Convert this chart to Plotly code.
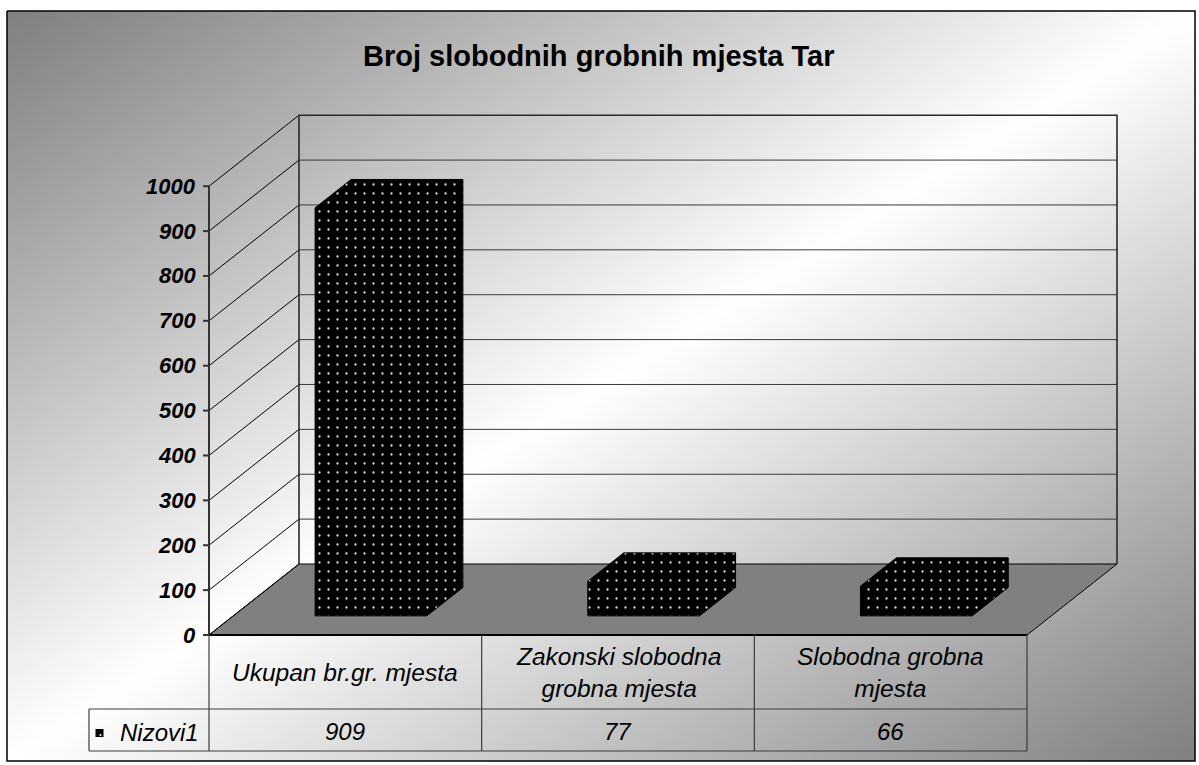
import numpy as np
import plotly.graph_objects as go

# ---------------- data ----------------
title_text = "Broj slobodnih grobnih mjesta Tar"
categories = ["Ukupan br.gr. mjesta", "Zakonski slobodna grobna mjesta", "Slobodna grobna mjesta"]
category_labels = ["Ukupan br.gr. mjesta", "Zakonski slobodna<br>grobna mjesta", "Slobodna grobna<br>mjesta"]
series_name = "Nizovi1"
values = [909, 77, 66]
y_ticks = [0, 100, 200, 300, 400, 500, 600, 700, 800, 900, 1000]

# ---------------- layout geometry (pixel <-> data) ----------------
W, H = 1199, 765
SX = 272.67      # pixels per category slot
SY = 0.4488      # pixels per value unit
OX, OY = 209, 635  # pixel position of (category 0 left edge, value 0) at front


def dxp(px):
    return (px - OX) / SX


def dyp(py):
    return (OY - py) / SY


DEPTH_X = 90 / SX
DEPTH_Y = 71 / SY
n_cat = len(categories)
vmax = y_ticks[-1]


def P(x, v, d):
    return (x + d * DEPTH_X, v + d * DEPTH_Y)


fig = go.Figure()

# ---------------- background gradient inside the frame ----------------
FX0, FX1, FY0, FY1 = 7, 1195, 11, 761
N = 61
us = (np.arange(N) + 0.5) / N
vs = (np.arange(N) + 0.5) / N
xs = [dxp(FX0 + u * (FX1 - FX0)) for u in us]
ys_top_down = [dyp(FY0 + v * (FY1 - FY0)) for v in vs]
z = [[1 - abs(u + v - 1) for u in us] for v in vs]
ys = ys_top_down[::-1]
z = z[::-1]
fig.add_trace(go.Heatmap(x=xs, y=ys, z=z, zmin=0, zmax=1, zsmooth="best",
                         colorscale=[[0, "#7f7f7f"], [1, "#ffffff"]],
                         showscale=False, hoverinfo="skip"))

# frame
fx = [dxp(FX0), dxp(FX1), dxp(FX1), dxp(FX0), dxp(FX0)]
fy = [dyp(FY0), dyp(FY0), dyp(FY1), dyp(FY1), dyp(FY0)]
fig.add_trace(go.Scatter(x=fx, y=fy, mode="lines", line=dict(color="#000000", width=1.5),
                         hoverinfo="skip"))

# floor
fl = [P(0, 0, 0), P(n_cat, 0, 0), P(n_cat, 0, 1), P(0, 0, 1), P(0, 0, 0)]
fig.add_trace(go.Scatter(x=[p[0] for p in fl], y=[p[1] for p in fl], mode="lines",
                         fill="toself", fillcolor="#808080",
                         line=dict(color="#000000", width=1), hoverinfo="skip"))

# back wall gridlines
gx, gy = [], []
for t in y_ticks[1:-1]:
    a, b = P(0, t, 1), P(n_cat, t, 1)
    gx += [a[0], b[0], None]
    gy += [a[1], b[1], None]
fig.add_trace(go.Scatter(x=gx, y=gy, mode="lines", line=dict(color="#3a3a3a", width=1),
                         hoverinfo="skip"))

# side wall diagonals
sx_, sy_ = [], []
for t in y_ticks:
    a, b = P(0, t, 0), P(0, t, 1)
    sx_ += [a[0], b[0], None]
    sy_ += [a[1], b[1], None]
fig.add_trace(go.Scatter(x=sx_, y=sy_, mode="lines", line=dict(color="#000000", width=1),
                         hoverinfo="skip"))

# back wall outline (left, top, right)
bw = [P(0, 0, 1), P(0, vmax, 1), P(n_cat, vmax, 1), P(n_cat, 0, 1)]
fig.add_trace(go.Scatter(x=[p[0] for p in bw], y=[p[1] for p in bw], mode="lines",
                         line=dict(color="#2a2a2a", width=1.6), hoverinfo="skip"))

# floor front edge
fe = [P(0, 0, 0), P(n_cat, 0, 0)]
fig.add_trace(go.Scatter(x=[p[0] for p in fe], y=[p[1] for p in fe], mode="lines",
                         line=dict(color="#000000", width=2.2), hoverinfo="skip"))

# value axis and ticks
tx, ty = [0, 0, None], [0, vmax, None]
for t in y_ticks:
    tx += [dxp(OX - 6), 0, None]
    ty += [t, t, None]
fig.add_trace(go.Scatter(x=tx, y=ty, mode="lines", line=dict(color="#333333", width=2),
                         hoverinfo="skip"))

# bars (3D boxes)
bx0, bx1, bd0, bd1 = 0.30, 0.71, 0.27, 0.67
for i, v in enumerate(values):
    x0, x1 = i + bx0, i + bx1
    pts = [P(x0, 0, bd0), P(x1, 0, bd0), P(x1, 0, bd1), P(x1, v, bd1),
           P(x0, v, bd1), P(x0, v, bd0), P(x0, 0, bd0)]
    fig.add_trace(go.Scatter(
        x=[p[0] for p in pts], y=[p[1] for p in pts], mode="lines", fill="toself",
        fillcolor="#000000",
        fillpattern=dict(shape=".", bgcolor="#000000", fgcolor="#e0e0e0", size=9,
                         solidity=0.05, fillmode="replace"),
        line=dict(color="#000000", width=1), name=categories[i], hoverinfo="skip"))

# data table lines
row_top, row_mid, row_bot = OY, 709, 751
lx, ly = [], []
for c in range(n_cat + 1):
    lx += [c, c, None]
    ly += [dyp(row_top), dyp(row_bot), None]
for r in (row_mid, row_bot):
    lx += [dxp(89), n_cat, None]
    ly += [dyp(r), dyp(r), None]
lx += [dxp(89), dxp(89), None]
ly += [dyp(row_mid), dyp(row_bot), None]
fig.add_trace(go.Scatter(x=lx, y=ly, mode="lines", line=dict(color="#3c3c3c", width=1.2),
                         hoverinfo="skip"))

# legend key
fig.add_trace(go.Scatter(x=[dxp(99.5)], y=[dyp(733)], mode="markers",
                         marker=dict(symbol="square", size=8, color="#000000",
                                     line=dict(width=0)), hoverinfo="skip"))
fig.add_trace(go.Scatter(x=[dxp(100.5)], y=[dyp(735)], mode="markers",
                         marker=dict(symbol="circle", size=2, color="#ffffff",
                                     line=dict(width=0)), hoverinfo="skip"))

FONT = "Arial, 'Liberation Sans', Helvetica, sans-serif"
ann = []
ann.append(dict(x=dxp(599), y=dyp(56), text=title_text, showarrow=False,
                xanchor="center", yanchor="middle",
                font=dict(family=FONT, size=29, color="#000000", weight="bold")))
for t in y_ticks:
    ann.append(dict(x=dxp(198), y=t, text=str(t), showarrow=False, xanchor="right",
                    yanchor="middle",
                    font=dict(family=FONT, size=22, color="#000000", weight="bold",
                              style="italic")))
for i, lab in enumerate(category_labels):
    ann.append(dict(x=i + 0.5, y=dyp(672), text=lab, showarrow=False, xanchor="center",
                    yanchor="middle",
                    font=dict(family=FONT, size=24.5, color="#000000", style="italic")))
for i, v in enumerate(values):
    ann.append(dict(x=i + 0.5, y=dyp(731), text=str(v), showarrow=False,
                    xanchor="center", yanchor="middle",
                    font=dict(family=FONT, size=24, color="#000000", style="italic")))
ann.append(dict(x=dxp(118), y=dyp(732), text=series_name, showarrow=False,
                xanchor="left", yanchor="middle",
                font=dict(family=FONT, size=24, color="#000000", style="italic")))

fig.update_layout(
    width=W, height=H, margin=dict(l=0, r=0, t=0, b=0, pad=0),
    paper_bgcolor="#ffffff", plot_bgcolor="#ffffff", showlegend=False,
    xaxis=dict(range=[dxp(0), dxp(W)], visible=False, fixedrange=True),
    yaxis=dict(range=[dyp(H), dyp(0)], visible=False, fixedrange=True),
    annotations=ann,
)

fig.write_html("out.html", config={"displayModeBar": False, "staticPlot": True},
               post_script="document.body.style.margin='0';document.body.style.overflow='hidden';")
